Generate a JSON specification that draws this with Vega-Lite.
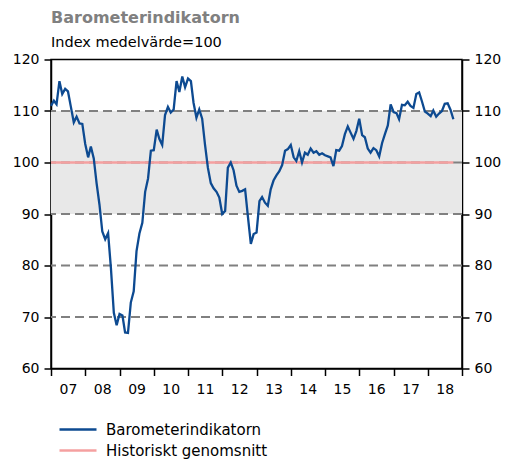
{
  "$schema": "https://vega.github.io/schema/vega-lite/v6.json",
  "width": 411,
  "height": 309,
  "autosize": {"type": "none"},
  "padding": {"left": 51, "top": 59.5, "right": 44, "bottom": 91.5},
  "background": "white",
  "config": {
    "font": "DejaVu Sans",
    "view": {"stroke": "black", "strokeWidth": 1.5},
    "axis": {
      "domainColor": "black", "domainWidth": 1.5,
      "tickColor": "black", "tickWidth": 1.5, "tickSize": 7,
      "labelColor": "black", "labelFontSize": 14, "labelPadding": 5,
      "grid": false, "title": null
    },
    "legend": {
      "orient": "none", "legendX": 19.5, "legendY": 362.5,
      "symbolType": "M-3.7,0H3.7", "symbolSize": 100, "symbolStrokeWidth": 2.5,
      "labelFontSize": 15, "labelColor": "black", "labelOffset": 20.5, "rowPadding": 5,
      "labelLimit": 400,
      "title": null
    }
  },
  "title": {
    "text": "Barometerindikatorn",
    "subtitle": "Index medelvärde=100",
    "anchor": "start", "frame": "group",
    "fontSize": 16, "fontWeight": "bold", "color": "#808080",
    "subtitleFontSize": 14.5, "subtitleColor": "black", "subtitlePadding": 10,
    "offset": 3
  },
  "resolve": {"axis": {"y": "independent"}},
  "layer": [
    {
      "data": {"values": [{"lo": 90, "hi": 110}]},
      "mark": {"type": "rect", "fill": "#e8e8e8"},
      "encoding": {
        "x": {"datum": {"year": 2007, "month": 1, "date": 1, "utc": true}, "type": "temporal",
          "scale": {"type": "utc", "domain": [{"year": 2007, "month": 1, "date": 1, "utc": true}, {"year": 2019, "month": 1, "date": 1, "utc": true}]},
          "axis": {"orient": "bottom", "tickCount": {"interval": "year", "step": 1},
            "labelExpr": "utcyear(datum.value) > 2018 ? '' : utcFormat(datum.value, '%y')",
            "labelOffset": 17, "labelPadding": 7, "labelAlign": "center"}},
        "x2": {"datum": {"year": 2019, "month": 1, "date": 1, "utc": true}},
        "y": {"field": "lo", "type": "quantitative", "scale": {"domain": [60, 120], "nice": false},
          "axis": {"orient": "left", "values": [60, 70, 80, 90, 100, 110, 120]}},
        "y2": {"field": "hi"}
      }
    },
    {
      "data": {"values": [{"g": 70}, {"g": 80}, {"g": 90}, {"g": 100}, {"g": 110}]},
      "mark": {"type": "rule", "color": "#808080", "strokeWidth": 2, "strokeDash": [9, 5]},
      "encoding": {
        "y": {"field": "g", "type": "quantitative", "axis": null}
      }
    },
    {
      "data": {"name": "series"},
      "mark": {"type": "line", "strokeWidth": 2.3},
      "encoding": {
        "x": {"field": "date", "type": "temporal"},
        "y": {"field": "value", "type": "quantitative",
          "axis": {"orient": "right", "values": [60, 70, 80, 90, 100, 110, 120]}},
        "color": {"field": "series", "type": "nominal",
          "scale": {"domain": ["Barometerindikatorn", "Historiskt genomsnitt"], "range": ["#0d4a91", "#f5a0a0"]}},
        "order": {"field": "date"}
      }
    }
  ],
  "datasets": {
    "series": [
      {"series": "Historiskt genomsnitt", "date": "2007-01-01", "value": 100},
      {"series": "Historiskt genomsnitt", "date": "2018-10-01", "value": 100},
      {"series": "Barometerindikatorn", "date": "2007-01-01", "value": 111.0},
      {"series": "Barometerindikatorn", "date": "2007-02-01", "value": 112.0},
      {"series": "Barometerindikatorn", "date": "2007-03-01", "value": 111.3},
      {"series": "Barometerindikatorn", "date": "2007-04-01", "value": 115.8},
      {"series": "Barometerindikatorn", "date": "2007-05-01", "value": 113.3},
      {"series": "Barometerindikatorn", "date": "2007-06-01", "value": 114.3},
      {"series": "Barometerindikatorn", "date": "2007-07-01", "value": 113.8},
      {"series": "Barometerindikatorn", "date": "2007-08-01", "value": 110.8},
      {"series": "Barometerindikatorn", "date": "2007-09-01", "value": 107.8},
      {"series": "Barometerindikatorn", "date": "2007-10-01", "value": 108.9},
      {"series": "Barometerindikatorn", "date": "2007-11-01", "value": 107.6},
      {"series": "Barometerindikatorn", "date": "2007-12-01", "value": 107.5},
      {"series": "Barometerindikatorn", "date": "2008-01-01", "value": 103.6},
      {"series": "Barometerindikatorn", "date": "2008-02-01", "value": 101.0},
      {"series": "Barometerindikatorn", "date": "2008-03-01", "value": 103.1},
      {"series": "Barometerindikatorn", "date": "2008-04-01", "value": 100.8},
      {"series": "Barometerindikatorn", "date": "2008-05-01", "value": 96.0},
      {"series": "Barometerindikatorn", "date": "2008-06-01", "value": 91.8},
      {"series": "Barometerindikatorn", "date": "2008-07-01", "value": 86.6},
      {"series": "Barometerindikatorn", "date": "2008-08-01", "value": 85.1},
      {"series": "Barometerindikatorn", "date": "2008-09-01", "value": 86.3},
      {"series": "Barometerindikatorn", "date": "2008-10-01", "value": 79.5},
      {"series": "Barometerindikatorn", "date": "2008-11-01", "value": 70.8},
      {"series": "Barometerindikatorn", "date": "2008-12-01", "value": 68.4},
      {"series": "Barometerindikatorn", "date": "2009-01-01", "value": 70.6},
      {"series": "Barometerindikatorn", "date": "2009-02-01", "value": 70.3},
      {"series": "Barometerindikatorn", "date": "2009-03-01", "value": 67.0},
      {"series": "Barometerindikatorn", "date": "2009-04-01", "value": 66.9},
      {"series": "Barometerindikatorn", "date": "2009-05-01", "value": 72.8},
      {"series": "Barometerindikatorn", "date": "2009-06-01", "value": 75.0},
      {"series": "Barometerindikatorn", "date": "2009-07-01", "value": 82.8},
      {"series": "Barometerindikatorn", "date": "2009-08-01", "value": 86.2},
      {"series": "Barometerindikatorn", "date": "2009-09-01", "value": 88.3},
      {"series": "Barometerindikatorn", "date": "2009-10-01", "value": 94.3},
      {"series": "Barometerindikatorn", "date": "2009-11-01", "value": 96.9},
      {"series": "Barometerindikatorn", "date": "2009-12-01", "value": 102.3},
      {"series": "Barometerindikatorn", "date": "2010-01-01", "value": 102.4},
      {"series": "Barometerindikatorn", "date": "2010-02-01", "value": 106.4},
      {"series": "Barometerindikatorn", "date": "2010-03-01", "value": 104.6},
      {"series": "Barometerindikatorn", "date": "2010-04-01", "value": 103.4},
      {"series": "Barometerindikatorn", "date": "2010-05-01", "value": 109.2},
      {"series": "Barometerindikatorn", "date": "2010-06-01", "value": 110.8},
      {"series": "Barometerindikatorn", "date": "2010-07-01", "value": 109.7},
      {"series": "Barometerindikatorn", "date": "2010-08-01", "value": 110.3},
      {"series": "Barometerindikatorn", "date": "2010-09-01", "value": 115.8},
      {"series": "Barometerindikatorn", "date": "2010-10-01", "value": 113.7},
      {"series": "Barometerindikatorn", "date": "2010-11-01", "value": 116.7},
      {"series": "Barometerindikatorn", "date": "2010-12-01", "value": 114.6},
      {"series": "Barometerindikatorn", "date": "2011-01-01", "value": 116.3},
      {"series": "Barometerindikatorn", "date": "2011-02-01", "value": 115.8},
      {"series": "Barometerindikatorn", "date": "2011-03-01", "value": 111.6},
      {"series": "Barometerindikatorn", "date": "2011-04-01", "value": 108.7},
      {"series": "Barometerindikatorn", "date": "2011-05-01", "value": 110.3},
      {"series": "Barometerindikatorn", "date": "2011-06-01", "value": 108.5},
      {"series": "Barometerindikatorn", "date": "2011-07-01", "value": 103.5},
      {"series": "Barometerindikatorn", "date": "2011-08-01", "value": 99.0},
      {"series": "Barometerindikatorn", "date": "2011-09-01", "value": 96.0},
      {"series": "Barometerindikatorn", "date": "2011-10-01", "value": 95.0},
      {"series": "Barometerindikatorn", "date": "2011-11-01", "value": 94.3},
      {"series": "Barometerindikatorn", "date": "2011-12-01", "value": 93.2},
      {"series": "Barometerindikatorn", "date": "2012-01-01", "value": 90.0},
      {"series": "Barometerindikatorn", "date": "2012-02-01", "value": 90.6},
      {"series": "Barometerindikatorn", "date": "2012-03-01", "value": 99.0},
      {"series": "Barometerindikatorn", "date": "2012-04-01", "value": 100.0},
      {"series": "Barometerindikatorn", "date": "2012-05-01", "value": 98.5},
      {"series": "Barometerindikatorn", "date": "2012-06-01", "value": 95.5},
      {"series": "Barometerindikatorn", "date": "2012-07-01", "value": 94.3},
      {"series": "Barometerindikatorn", "date": "2012-08-01", "value": 94.5},
      {"series": "Barometerindikatorn", "date": "2012-09-01", "value": 94.8},
      {"series": "Barometerindikatorn", "date": "2012-10-01", "value": 89.5},
      {"series": "Barometerindikatorn", "date": "2012-11-01", "value": 84.2},
      {"series": "Barometerindikatorn", "date": "2012-12-01", "value": 86.1},
      {"series": "Barometerindikatorn", "date": "2013-01-01", "value": 86.4},
      {"series": "Barometerindikatorn", "date": "2013-02-01", "value": 92.5},
      {"series": "Barometerindikatorn", "date": "2013-03-01", "value": 93.3},
      {"series": "Barometerindikatorn", "date": "2013-04-01", "value": 92.2},
      {"series": "Barometerindikatorn", "date": "2013-05-01", "value": 91.6},
      {"series": "Barometerindikatorn", "date": "2013-06-01", "value": 94.8},
      {"series": "Barometerindikatorn", "date": "2013-07-01", "value": 96.5},
      {"series": "Barometerindikatorn", "date": "2013-08-01", "value": 97.5},
      {"series": "Barometerindikatorn", "date": "2013-09-01", "value": 98.3},
      {"series": "Barometerindikatorn", "date": "2013-10-01", "value": 99.5},
      {"series": "Barometerindikatorn", "date": "2013-11-01", "value": 102.3},
      {"series": "Barometerindikatorn", "date": "2013-12-01", "value": 102.6},
      {"series": "Barometerindikatorn", "date": "2014-01-01", "value": 103.4},
      {"series": "Barometerindikatorn", "date": "2014-02-01", "value": 101.0},
      {"series": "Barometerindikatorn", "date": "2014-03-01", "value": 100.3},
      {"series": "Barometerindikatorn", "date": "2014-04-01", "value": 102.2},
      {"series": "Barometerindikatorn", "date": "2014-05-01", "value": 100.0},
      {"series": "Barometerindikatorn", "date": "2014-06-01", "value": 101.9},
      {"series": "Barometerindikatorn", "date": "2014-07-01", "value": 101.5},
      {"series": "Barometerindikatorn", "date": "2014-08-01", "value": 102.7},
      {"series": "Barometerindikatorn", "date": "2014-09-01", "value": 101.9},
      {"series": "Barometerindikatorn", "date": "2014-10-01", "value": 102.2},
      {"series": "Barometerindikatorn", "date": "2014-11-01", "value": 101.5},
      {"series": "Barometerindikatorn", "date": "2014-12-01", "value": 101.8},
      {"series": "Barometerindikatorn", "date": "2015-01-01", "value": 101.4},
      {"series": "Barometerindikatorn", "date": "2015-02-01", "value": 101.2},
      {"series": "Barometerindikatorn", "date": "2015-03-01", "value": 101.0},
      {"series": "Barometerindikatorn", "date": "2015-04-01", "value": 99.3},
      {"series": "Barometerindikatorn", "date": "2015-05-01", "value": 102.4},
      {"series": "Barometerindikatorn", "date": "2015-06-01", "value": 102.3},
      {"series": "Barometerindikatorn", "date": "2015-07-01", "value": 103.2},
      {"series": "Barometerindikatorn", "date": "2015-08-01", "value": 105.5},
      {"series": "Barometerindikatorn", "date": "2015-09-01", "value": 107.0},
      {"series": "Barometerindikatorn", "date": "2015-10-01", "value": 105.8},
      {"series": "Barometerindikatorn", "date": "2015-11-01", "value": 104.6},
      {"series": "Barometerindikatorn", "date": "2015-12-01", "value": 106.1},
      {"series": "Barometerindikatorn", "date": "2016-01-01", "value": 108.5},
      {"series": "Barometerindikatorn", "date": "2016-02-01", "value": 105.3},
      {"series": "Barometerindikatorn", "date": "2016-03-01", "value": 104.9},
      {"series": "Barometerindikatorn", "date": "2016-04-01", "value": 102.7},
      {"series": "Barometerindikatorn", "date": "2016-05-01", "value": 101.9},
      {"series": "Barometerindikatorn", "date": "2016-06-01", "value": 102.8},
      {"series": "Barometerindikatorn", "date": "2016-07-01", "value": 102.4},
      {"series": "Barometerindikatorn", "date": "2016-08-01", "value": 101.2},
      {"series": "Barometerindikatorn", "date": "2016-09-01", "value": 103.8},
      {"series": "Barometerindikatorn", "date": "2016-10-01", "value": 105.5},
      {"series": "Barometerindikatorn", "date": "2016-11-01", "value": 107.2},
      {"series": "Barometerindikatorn", "date": "2016-12-01", "value": 111.3},
      {"series": "Barometerindikatorn", "date": "2017-01-01", "value": 109.8},
      {"series": "Barometerindikatorn", "date": "2017-02-01", "value": 109.6},
      {"series": "Barometerindikatorn", "date": "2017-03-01", "value": 108.4},
      {"series": "Barometerindikatorn", "date": "2017-04-01", "value": 111.2},
      {"series": "Barometerindikatorn", "date": "2017-05-01", "value": 111.1},
      {"series": "Barometerindikatorn", "date": "2017-06-01", "value": 111.8},
      {"series": "Barometerindikatorn", "date": "2017-07-01", "value": 111.0},
      {"series": "Barometerindikatorn", "date": "2017-08-01", "value": 110.6},
      {"series": "Barometerindikatorn", "date": "2017-09-01", "value": 113.3},
      {"series": "Barometerindikatorn", "date": "2017-10-01", "value": 113.6},
      {"series": "Barometerindikatorn", "date": "2017-11-01", "value": 111.8},
      {"series": "Barometerindikatorn", "date": "2017-12-01", "value": 109.9},
      {"series": "Barometerindikatorn", "date": "2018-01-01", "value": 109.5},
      {"series": "Barometerindikatorn", "date": "2018-02-01", "value": 109.0},
      {"series": "Barometerindikatorn", "date": "2018-03-01", "value": 110.1},
      {"series": "Barometerindikatorn", "date": "2018-04-01", "value": 108.9},
      {"series": "Barometerindikatorn", "date": "2018-05-01", "value": 109.5},
      {"series": "Barometerindikatorn", "date": "2018-06-01", "value": 110.0},
      {"series": "Barometerindikatorn", "date": "2018-07-01", "value": 111.4},
      {"series": "Barometerindikatorn", "date": "2018-08-01", "value": 111.5},
      {"series": "Barometerindikatorn", "date": "2018-09-01", "value": 110.2},
      {"series": "Barometerindikatorn", "date": "2018-10-01", "value": 108.4}
    ]
  }
}
